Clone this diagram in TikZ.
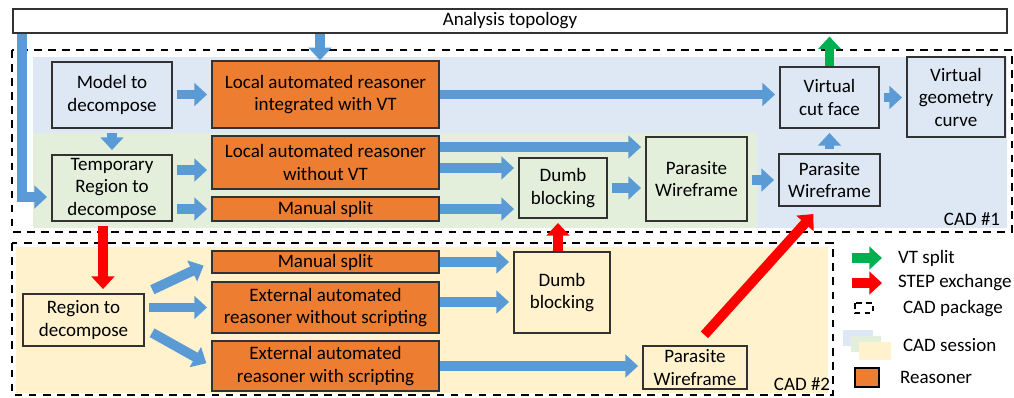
\documentclass[tikz,border=0pt]{standalone}
\usepackage{fontspec}
\setmainfont{Carlito}
\usetikzlibrary{arrows.meta}
\definecolor{sessblue}{RGB}{221,232,244}
\definecolor{sessgreen}{RGB}{227,239,219}
\definecolor{sessyellow}{RGB}{255,242,204}
\definecolor{reasonorange}{RGB}{237,125,49}
\definecolor{flowblue}{RGB}{91,155,213}
\definecolor{vtgreen}{RGB}{0,176,80}
\definecolor{boxline}{RGB}{50,50,50}
\begin{document}
\begin{tikzpicture}[x=0.025cm, y=-0.025cm, line width=0.6pt,
  txt/.style={font=\fontsize{13.5}{16}\selectfont, align=center},
  box/.style={txt, draw=boxline, line width=1pt, inner sep=0pt},
  wh/.style 2 args={minimum width=#1*0.025cm, minimum height=#2*0.025cm},
  reasoner/.style={box, fill=reasonorange},
  cadframe/.style={draw=black, line width=1.4pt, dash pattern=on 5.5pt off 4.5pt},
  flow/.style={draw=flowblue, line width=7pt, -{Triangle[length=9pt,width=16pt]}, shorten <=3pt, shorten >=3pt},
  stepx/.style={draw=red, line width=7pt, -{Triangle[length=9pt,width=16pt]}, shorten <=3pt, shorten >=3pt},
  vtsplit/.style={draw=vtgreen, line width=7pt, -{Triangle[length=9pt,width=16pt]}}]
  \useasboundingbox (0,0) rectangle (1014,397);
  \fill[sessblue] (33,57) rectangle (1007,228);
  \fill[sessgreen] (33,133) rectangle (757,228);
  \fill[sessyellow] (16,247) rectangle (828,393);
  \draw[cadframe] (12,50) rectangle (1012,232);
  \draw[cadframe] (12,243) rectangle (833,395);
  \node[box, fill=white, wh={994}{24}] (topo) at (510,21) {Analysis topology};
  \node[box, fill=sessblue, wh={120}{66}] (model) at (112,95) {Model to\\decompose};
  \node[reasoner, wh={227}{67}] (locvt) at (325.5,94.5) {Local automated reasoner\\integrated with VT};
  \node[box, fill=sessgreen, wh={120}{66}] (temp) at (112,188) {Temporary\\Region to\\decompose};
  \node[reasoner, wh={227}{53}] (locnovt) at (325.5,162.5) {Local automated reasoner\\without VT};
  \node[reasoner, wh={227}{24}] (manual1) at (325.5,209) {Manual split};
  \node[box, fill=sessgreen, wh={88}{60}] (dumb1) at (563,188) {Dumb\\blocking};
  \node[box, fill=sessgreen, wh={101}{84}] (para1) at (696.5,179) {Parasite\\Wireframe};
  \node[box, fill=sessblue, wh={101}{52}] (para2) at (829.5,180) {Parasite\\Wireframe};
  \node[box, fill=sessblue, wh={99}{61}] (cut) at (829.5,97.5) {Virtual\\cut face};
  \node[box, fill=sessblue, wh={98}{80}] (geom) at (956,97) {Virtual\\geometry\\curve};
  \node[box, fill=sessyellow, wh={121}{52}] (region) at (83.5,320) {Region to\\decompose};
  \node[reasoner, wh={227}{22}] (manual2) at (325.5,262) {Manual split};
  \node[reasoner, wh={227}{51}] (extno) at (325.5,307.5) {External automated\\reasoner without scripting};
  \node[reasoner, wh={227}{50}] (extsc) at (325.5,366) {External automated\\reasoner with scripting};
  \node[box, fill=sessyellow, wh={96}{81}] (dumb2) at (562,292.5) {Dumb\\blocking};
  \node[box, fill=sessyellow, wh={104}{43}] (para3) at (695,367.5) {Parasite\\Wireframe};
  \node[txt] (cad1) at (972,219) {CAD \#1};
  \node[txt] (cad2) at (802,384) {CAD \#2};
  \draw[flow, shorten <=0pt] (topo.south -| 22,0) |- (temp.west |- 0,197);
  \draw[flow, shorten <=0pt, shorten >=0pt] (topo.south -| 320,0) -- (locvt.north -| 320,0);
  \draw[flow] (model.east |- locvt.west) -- (locvt.west);
  \draw[flow] (model) -- (temp);
  \draw[flow, shorten <=0pt] (locvt.east) -- (cut.west |- locvt.east);
  \draw[flow, shorten <=0pt] (locnovt.east |- 0,147) -- (para1.west |- 0,147);
  \draw[flow, shorten <=0pt] (locnovt.east |- 0,168) -- (dumb1.west |- 0,168);
  \draw[flow, shorten <=0pt] (manual1.east) -- (dumb1.west |- manual1.east);
  \draw[flow] (temp.east |- 0,170) -- (locnovt.west |- 0,170);
  \draw[flow] (temp.east |- manual1.west) -- (manual1.west);
  \draw[flow] (dumb1) -- (para1.west |- dumb1);
  \draw[flow] (para1.east |- para2.west) -- (para2.west);
  \draw[flow] (para2) -- (cut);
  \draw[flow] (cut) -- (geom.west |- cut);
  \draw[vtsplit, shorten >=2pt] (cut.north) -- (cut.north |- topo.south);
  \draw[stepx] (temp.south -| 103,0) -- (region.north -| 103,0);
  \draw[stepx, shorten <=0pt] (dumb2.north -| 558,0) -- (dumb1.south -| 558,0);
  \draw[stepx, shorten <=10pt, shorten >=7pt] (para3.north) -- (para2.south -| 820,0);
  \draw[flow, shorten <=6pt, shorten >=6pt] (region.north east) -- (manual2.west);
  \draw[flow] (region.east |- extno.west) -- (extno.west);
  \draw[flow, shorten <=6pt, shorten >=4pt] (region.-8) -- (extsc.west);
  \draw[flow, shorten <=0pt] (manual2.east) -- (dumb2.west |- manual2.east);
  \draw[flow, shorten <=0pt] (extno.east |- 0,302) -- (dumb2.west |- 0,302);
  \draw[flow, shorten <=0pt] (extsc.east) -- (para3.west |- extsc.east);
  \coordinate (lg1) at (852,258); \coordinate (lg1e) at (882,258);
  \coordinate (lg2) at (852,283); \coordinate (lg2e) at (882,283);
  \draw[vtsplit] (lg1) -- (lg1e);
  \draw[draw=red, line width=7pt, -{Triangle[length=9pt,width=16pt]}] (lg2) -- (lg2e);
  \draw[cadframe, dash pattern=on 4pt off 3pt] (855,303) rectangle (873,313);
  \fill[sessblue] (843,330) rectangle (873,346);
  \fill[sessgreen] (851,336) rectangle (881,352);
  \fill[sessyellow] (859,342) rectangle (891,360);
  \draw[draw=black, line width=1.4pt, fill=reasonorange] (855,368) rectangle (879,387);
  \node[txt, anchor=west] (lvt) at (893,258) {VT split};
  \node[txt, anchor=west] (lstep) at (893,283) {STEP exchange};
  \node[txt, anchor=west] (lpkg) at (898,309) {CAD package};
  \node[txt, anchor=west] (lsess) at (898,345) {CAD session};
  \node[txt, anchor=west] (lreas) at (895,377) {Reasoner};
\end{tikzpicture}
\end{document}
